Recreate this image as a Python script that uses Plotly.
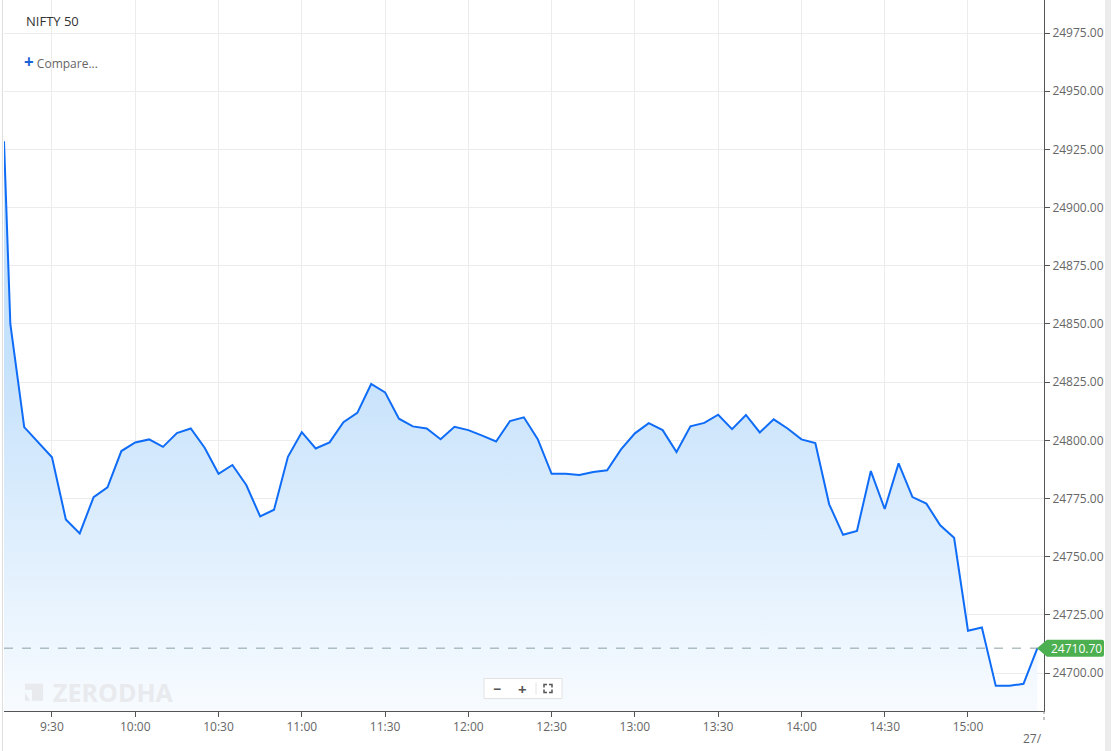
import pandas as pd
import plotly.graph_objects as go

# 5-minute closes, NIFTY 50 (first value is where the line enters at the left edge)
times = ["09:12:43"] + [f"{h:02d}:{m:02d}:00" for h in range(9, 16) for m in range(0, 60, 5)
                        if (h, m) >= (9, 15) and (h, m) <= (15, 25)]
closes = [24928.5,
          24850.0, 24805.7, 24799.4, 24792.7, 24766.0, 24760.0, 24775.6, 24779.8, 24795.4, 24799.1,
          24800.4, 24797.2, 24803.1, 24805.1, 24796.8, 24785.6, 24789.4, 24780.8, 24767.3, 24770.2,
          24792.9, 24803.5, 24796.5, 24799.1, 24807.8, 24811.8, 24824.2, 24820.6, 24809.3, 24806.0,
          24805.1, 24800.5, 24805.8, 24804.4, 24802.0, 24799.5, 24808.3, 24809.9, 24800.5, 24785.6,
          24785.6, 24785.1, 24786.4, 24787.1, 24796.1, 24803.0, 24807.4, 24804.4, 24795.0, 24806.0,
          24807.5, 24811.0, 24804.8, 24810.9, 24803.4, 24809.0, 24805.1, 24800.4, 24798.8, 24772.5,
          24759.4, 24761.1, 24786.8, 24770.5, 24790.1, 24775.6, 24772.8, 24763.5, 24758.1, 24718.2,
          24719.6, 24694.5, 24694.5, 24695.4, 24710.7]
last_price = 24710.70

tick_times = ["09:30", "10:00", "10:30", "11:00", "11:30", "12:00", "12:30",
              "13:00", "13:30", "14:00", "14:30", "15:00"]
tick_labels = ["9:30", "10:00", "10:30", "11:00", "11:30", "12:00", "12:30",
               "13:00", "13:30", "14:00", "14:30", "15:00"]
price_ticks = [24700 + 25 * i for i in range(12)]

day = "2024-06-26 "
x = pd.to_datetime([day + t for t in times], format="mixed")
xt = pd.to_datetime([day + t for t in tick_times], format="mixed")

y_lo, y_hi = 24683.7, 24989.2
x_lo, x_hi = pd.Timestamp(day + "09:12:43"), pd.Timestamp(day + "15:27:23")

font = "Open Sans, Noto Sans, sans-serif"
blue = "#0f6cf7"

fig = go.Figure()
fig.add_trace(go.Scatter(x=x, y=[y_lo] * len(x), mode="lines",
                         line=dict(width=0), hoverinfo="skip", showlegend=False))
fig.add_trace(go.Scatter(
    x=x, y=closes, mode="lines", fill="tonexty",
    line=dict(color=blue, width=2),
    fillgradient=dict(type="vertical", start=y_lo, stop=24835,
                      colorscale=[[0, "rgb(247,251,255)"], [1, "rgb(197,225,251)"]]),
    showlegend=False,
))

fig.update_layout(
    width=1111, height=751,
    margin=dict(l=4, r=67, t=0, b=40),
    paper_bgcolor="white", plot_bgcolor="white",
    font=dict(family=font, size=12, color="#666"),
    xaxis=dict(
        range=[x_lo, x_hi], tickvals=xt, ticktext=tick_labels,
        showgrid=True, gridcolor="#ececec", gridwidth=1,
        showline=True, linecolor="#555", linewidth=1,
        ticks="outside", ticklen=5, tickcolor="#555",
        tickfont=dict(size=12, color="#666"), zeroline=False,
    ),
    yaxis=dict(
        range=[y_lo, y_hi], side="right", tickvals=price_ticks, tickformat=".2f",
        showgrid=True, gridcolor="#ececec", gridwidth=1,
        showline=True, linecolor="#555", linewidth=1,
        ticks="outside", ticklen=5, tickcolor="#555",
        tickfont=dict(size=12, color="#666"), zeroline=False,
    ),
)

# last price dashed line
fig.add_shape(type="line", xref="paper", x0=0, x1=1, yref="y", y0=last_price, y1=last_price,
              line=dict(color="#8ca0a6", width=1, dash="dash"))
# last price badge
fig.add_shape(type="path", xref="paper", yref="y", xsizemode="pixel", ysizemode="pixel",
              xanchor=1, yanchor=last_price,
              path="M -7,0 L 3,8.5 L 58,8.5 Q 60,8.5 60,6.5 L 60,-6.5 Q 60,-8.5 58,-8.5 L 3,-8.5 Z",
              fillcolor="#4caf50", line=dict(width=0), layer="above")
fig.add_annotation(xref="paper", yref="y", x=1, y=last_price, xshift=32,
                   xanchor="center", yanchor="middle", text=f"{last_price:.2f}",
                   showarrow=False, font=dict(size=12, color="white", family=font))

# left border and right strip
fig.add_shape(type="line", xref="paper", yref="paper", x0=-0.0015, x1=-0.0015, y0=-0.06, y1=1,
              line=dict(color="#dddddd", width=1))
fig.add_shape(type="rect", xref="paper", yref="paper", x0=1.0587, x1=1.07, y0=-0.06, y1=1,
              fillcolor="#ececec", line=dict(width=0))

# next-day date label, clipped
fig.add_shape(type="line", xref="paper", yref="paper", x0=1, x1=1, y0=0, y1=-0.015,
              line=dict(color="#888", width=1, dash="dot"))
fig.add_annotation(xref="paper", yref="paper", x=1, y=-0.038, xanchor="right", yanchor="middle",
                   text="27/", showarrow=False, font=dict(size=12, color="#666"))

# header
fig.add_annotation(xref="paper", yref="paper", x=0.0192, y=0.9705, xanchor="left", yanchor="middle",
                   text="NIFTY 50", showarrow=False, font=dict(size=13, color="#333", family=font))
fig.add_annotation(xref="paper", yref="paper", x=0.0172, y=0.9128, xanchor="left", yanchor="middle",
                   text="<span style='color:#1b62d6;font-size:17px'><b>+</b></span> Compare...",
                   showarrow=False, font=dict(size=12, color="#666", family=font))

# watermark
fig.add_shape(type="path", xref="paper", yref="paper", xsizemode="pixel", ysizemode="pixel",
              xanchor=0, yanchor=0.0272,
              path="M 21,8 L 39,8 L 39,-9 L 28,-9 L 28,2 L 21,2 Z",
              fillcolor="#e8eaed", line=dict(width=0))
fig.add_shape(type="path", xref="paper", yref="paper", xsizemode="pixel", ysizemode="pixel",
              xanchor=0, yanchor=0.0272,
              path="M 21,-1 L 26,-9 L 21,-9 Z",
              fillcolor="#e8eaed", line=dict(width=0))
fig.add_annotation(xref="paper", yref="paper", x=0.0455, y=0.0272, xanchor="left", yanchor="middle",
                   text="<b>ZERODHA</b>", showarrow=False,
                   font=dict(size=25, color="#e8eaed", family="Open Sans, sans-serif"))

# zoom controls
fig.add_shape(type="rect", xref="paper", yref="paper", xsizemode="pixel", ysizemode="pixel",
              xanchor=0, yanchor=0.0316, x0=480, x1=558, y0=-10, y1=10,
              fillcolor="white", line=dict(color="#e2e2e2", width=1))
fig.add_shape(type="line", xref="paper", yref="paper", xsizemode="pixel", ysizemode="pixel",
              xanchor=0, yanchor=0.0316, x0=532, x1=532, y0=-6, y1=6,
              line=dict(color="#e2e2e2", width=1))
fig.add_annotation(xref="paper", yref="paper", x=0.4740, y=0.0316, xanchor="center", yanchor="middle",
                   text="<b>−</b>", showarrow=False, font=dict(size=14, color="#555"))
fig.add_annotation(xref="paper", yref="paper", x=0.4990, y=0.0316, xanchor="center", yanchor="middle",
                   text="<b>+</b>", showarrow=False, font=dict(size=15, color="#555"))
for p in ["M 540,1 L 540,4 L 543,4", "M 545,4 L 548,4 L 548,1",
          "M 540,-1 L 540,-4 L 543,-4", "M 545,-4 L 548,-4 L 548,-1"]:
    fig.add_shape(type="path", xref="paper", yref="paper", xsizemode="pixel", ysizemode="pixel",
                  xanchor=0, yanchor=0.0316, path=p, line=dict(color="#555", width=1.5))

fig.write_html("out.html", config={"displayModeBar": False},
               post_script="document.body.style.margin='0';")
